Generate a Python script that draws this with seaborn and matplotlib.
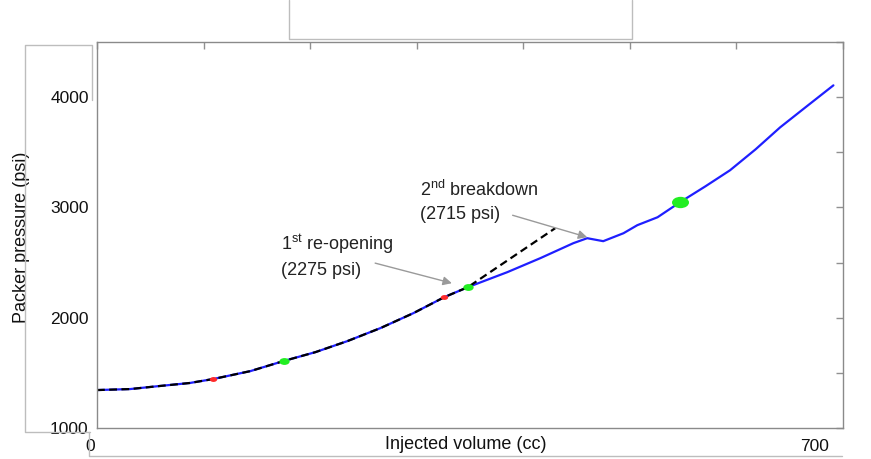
import seaborn as sns
import pandas as pd
import matplotlib.pyplot as plt
import matplotlib.transforms as mtransforms
from matplotlib.lines import Line2D
from matplotlib.path import Path

# Packer pressure vs injected volume
vol = [0, 31, 56, 87, 109, 144, 175, 205, 235, 266, 297, 326, 348,
       385, 416, 447, 460, 475, 494, 507, 526, 547, 571, 594, 618, 641, 666, 691]
pres = [1344, 1353, 1378, 1408, 1444, 1516, 1607, 1688, 1788, 1906, 2042, 2187, 2277,
        2413, 2540, 2676, 2721, 2694, 2766, 2839, 2911, 3047, 3192, 3337, 3527, 3726, 3917, 4107]

# dashed extrapolation: follows the curve to the 1st re-opening then goes straight
trend_vol = vol[:13] + [430]
trend_pres = pres[:13] + [2812]

# picked points
red_vol = [109, 326]
red_pres = [1444, 2187]
green_vol = [175, 348]
green_pres = [1607, 2277]
big_green_vol = [547]
big_green_pres = [3047]

sns.set_style("white")
plt.rcParams['font.family'] = ['Liberation Sans', 'DejaVu Sans']
plt.rcParams['mathtext.fontset'] = 'custom'
plt.rcParams['mathtext.rm'] = 'Liberation Sans'

df = pd.DataFrame({"vol": vol, "pres": pres})
trend = pd.DataFrame({"vol": trend_vol, "pres": trend_pres})

fig = plt.figure(figsize=(8.71, 4.59), dpi=100)
ax = fig.add_axes([97 / 871, 1 - 428 / 459, 746 / 871, 386 / 459])

sns.lineplot(data=df, x="vol", y="pres", ax=ax, color="#1f1fff", lw=1.6,
             sort=False, estimator=None)
sns.lineplot(data=trend, x="vol", y="pres", ax=ax, color="black", lw=1.6,
             sort=False, estimator=None, linestyle=(0, (3.5, 2)))

ellipse = Path.unit_circle().transformed(mtransforms.Affine2D().scale(1.5, 1.0))
ax.scatter(red_vol, red_pres, s=28, color="#ff2a2a", zorder=5, linewidths=0,
           marker=ellipse)
ax.scatter(green_vol, green_pres, s=55, color="#22ee22", zorder=5,
           linewidths=0, marker=ellipse)
ax.scatter(big_green_vol, big_green_pres, s=150, color="#22ee22", zorder=5,
           linewidths=0, marker=ellipse)

ax.set_xlim(0, 700)
ax.set_ylim(1000, 4500)
ax.set_xticks(range(0, 701, 100))
ax.set_xticklabels(["0", "", "", "", "", "", "", "700"])
ax.set_yticks(range(1000, 4501, 500))
ax.set_yticklabels(["1000", "", "2000", "", "3000", "", "4000", ""])
ax.tick_params(direction="in", length=5, width=1, color="#909090",
               top=True, right=True, labelsize=12.5, labelcolor="#111111", pad=6)
ax.tick_params(axis="x", pad=8)
for s in ax.spines.values():
    s.set_color("#8a8a8a")
    s.set_linewidth(1)

# shift the x tick labels like in the pasted figure
labs = ax.get_xticklabels()
labs[0].set_transform(labs[0].get_transform() +
                      mtransforms.ScaledTranslation(-0.07, 0, fig.dpi_scale_trans))
labs[-1].set_transform(labs[-1].get_transform() +
                       mtransforms.ScaledTranslation(-0.28, 0, fig.dpi_scale_trans))

ax.set_xlabel("Injected volume (cc)", fontsize=13, color="#111111")
ax.set_ylabel("Packer pressure (psi)", fontsize=13, color="#111111")
ax.xaxis.set_label_coords(0.494, -0.02)
ax.yaxis.set_label_coords(-0.09, 0.495)

arrow = dict(arrowstyle="-|>", color="#9a9a9a", lw=1, mutation_scale=13,
             shrinkA=0, shrinkB=0)
ax.annotate("", xy=(333, 2313), xytext=(261, 2495), arrowprops=arrow)
ax.annotate("", xy=(460, 2730), xytext=(390, 2929), arrowprops=arrow)
ax.text(173, 2563, "1$^{\\mathrm{st}}$ re-opening\n(2275 psi)", fontsize=13,
        ha="left", va="center", linespacing=1.45, color="#222222")
ax.text(303, 3056, "2$^{\\mathrm{nd}}$ breakdown\n(2715 psi)", fontsize=13,
        ha="left", va="center", linespacing=1.45, color="#222222")

# frame lines of the pasted picture around the chart
def px_line(xs, ys):
    fig.add_artist(Line2D([x / 871 for x in xs], [1 - y / 459 for y in ys],
                          color="#bdbdbd", lw=1, transform=fig.transFigure))

px_line([289, 289, 632, 632], [0, 39, 39, 0])
px_line([92, 92, 25, 25, 90], [100, 45, 45, 432, 432])
px_line([89, 89, 842], [432, 456, 456])

fig.savefig("out.png", dpi=100)
